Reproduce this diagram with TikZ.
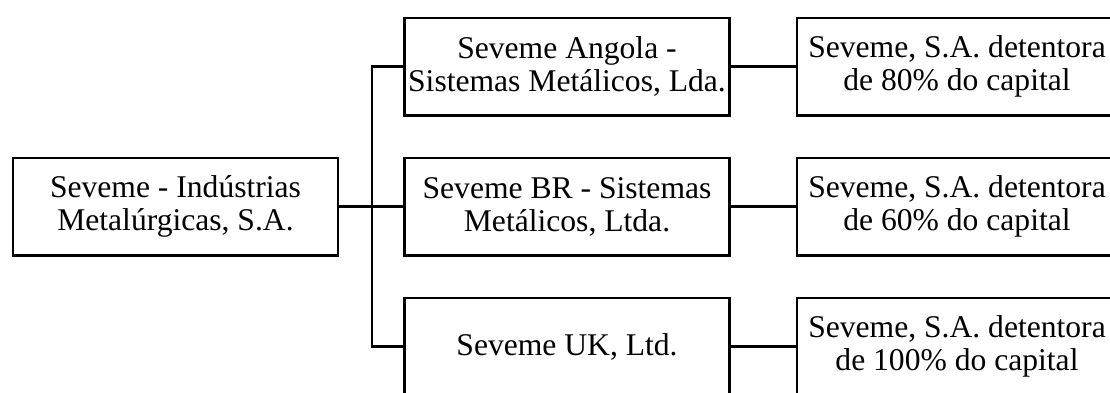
\documentclass[tikz,border=0pt]{standalone}
\usepackage{fontspec}
\setmainfont{Liberation Serif}
\begin{document}
\begin{tikzpicture}[x=1pt,y=-1pt,
  box/.style={draw=black,line width=2.7pt,rectangle,inner sep=0pt,
    minimum width=324.8pt,minimum height=97.3pt},
  lbl/.style={align=center,inner sep=0pt,font=\fontsize{31.6}{33}\selectfont},
  conn/.style={draw=black,line width=2.7pt}]
\useasboundingbox (0,0) rectangle (1110,392);
\clip (0,0) rectangle (1110,392);
\node[box,lbl] (root) at (175.5,206.7) {Seveme - Indústrias\\Metalúrgicas, S.A.};
\node[box,lbl] (m1) at (567,66.5) {Seveme Angola -\\Sistemas Metálicos, Lda.};
\node[box,lbl] (m2) at (567,206.7) {Seveme BR - Sistemas\\Metálicos, Ltda.};
\node[box,lbl] (m3) at (567,346.7) {Seveme UK, Ltd.};
\node[box] (r1) at (959.5,66.5) {};
\node[box] (r2) at (959.5,206.7) {};
\node[box] (r3) at (959.5,346.7) {};
\node[lbl] (t1) at (957,66.5) {Seveme, S.A. detentora\\de 80\% do capital};
\node[lbl] (t2) at (957,206.7) {Seveme, S.A. detentora\\de 60\% do capital};
\node[lbl] (t3) at (957,346.7) {Seveme, S.A. detentora\\de 100\% do capital};
\coordinate (j) at (372,206.7);
\draw[conn] (root.east) -- (m2.west);
\draw[conn] (m1.west) -| (j) |- (m3.west);
\draw[conn] (m1.east) -- (r1.west);
\draw[conn] (m2.east) -- (r2.west);
\draw[conn] (m3.east) -- (r3.west);
\end{tikzpicture}
\end{document}
